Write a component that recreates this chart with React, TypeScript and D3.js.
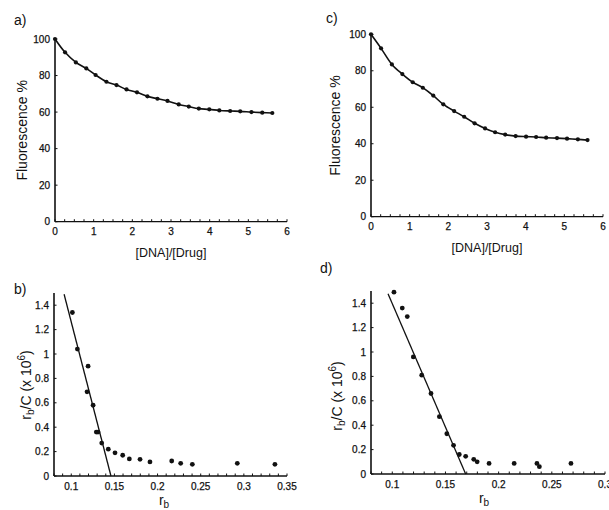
import React from 'react';
import * as d3 from 'd3';

// [DNA]/[Drug] ratios (panels a, c)
const ratioA = [0, 0.26, 0.54, 0.81, 1.05, 1.33, 1.59, 1.85, 2.12, 2.39, 2.65, 2.91, 3.2, 3.46, 3.72, 3.99, 4.25, 4.53, 4.79, 5.08, 5.36, 5.62];
const fluorA = [100, 92.7, 87.2, 83.9, 80.3, 76.6, 74.8, 72.4, 70.8, 68.6, 67.3, 66.1, 64.2, 63.0, 61.9, 61.5, 60.9, 60.6, 60.4, 60.0, 59.7, 59.5];

const ratioC = [0, 0.26, 0.54, 0.81, 1.08, 1.34, 1.61, 1.87, 2.15, 2.41, 2.68, 2.95, 3.21, 3.47, 3.74, 4.01, 4.27, 4.53, 4.81, 5.07, 5.35, 5.6];
const fluorC = [100, 92.3, 83.5, 78.2, 73.7, 70.7, 66.4, 61.6, 57.9, 54.8, 51.2, 48.4, 46.3, 45.0, 44.2, 43.9, 43.7, 43.3, 43.1, 42.8, 42.4, 42.0];

// Scatchard plots (panels b, d)
const rbB = [0.1013, 0.1071, 0.1195, 0.1183, 0.1253, 0.129, 0.131, 0.1353, 0.1429, 0.1507, 0.1596, 0.1673, 0.1797, 0.1912, 0.2164, 0.2268, 0.2403, 0.2924, 0.336];
const rbcB = [1.34, 1.04, 0.9, 0.69, 0.58, 0.36, 0.36, 0.27, 0.22, 0.19, 0.17, 0.14, 0.137, 0.115, 0.123, 0.104, 0.096, 0.104, 0.096];
const fitB = [0.0917, 0.146]; // fitted line: x at top, x-intercept
const fitTopB = 1.49;

const rbD = [0.1016, 0.1094, 0.1141, 0.1198, 0.1277, 0.1364, 0.1443, 0.1513, 0.1576, 0.163, 0.169, 0.1766, 0.1798, 0.191, 0.2146, 0.236, 0.2383, 0.268];
const rbcD = [1.49, 1.36, 1.29, 0.96, 0.81, 0.66, 0.47, 0.33, 0.235, 0.16, 0.145, 0.12, 0.1, 0.087, 0.087, 0.087, 0.06, 0.087];
const fitD = [0.096, 0.169];
const fitTopD = 1.478;

const fluorTicks = [0, 20, 40, 60, 80, 100];
const ratioTicks = [0, 1, 2, 3, 4, 5, 6];
const rbcTicks = [0, 0.2, 0.4, 0.6, 0.8, 1, 1.2, 1.4];
const rbTicksB = [0.1, 0.15, 0.2, 0.25, 0.3, 0.35];
const rbTicksD = [0.1, 0.15, 0.2, 0.25, 0.3];

const FONT = '"Liberation Sans", Arial, Helvetica, sans-serif';
const INK = '#111';

const fmt = (v: number) => String(+v.toFixed(2));

function Frame({ x, y, xTicks, yTicks, minorX, labelGap }: any) {
  const [x0, x1] = x.range();
  const y0 = y.range()[0];
  const y1 = y.range()[1];
  return (
    <g fontFamily={FONT} fill={INK}>
      <line x1={x0} x2={x0} y1={y0} y2={y1} stroke={INK} strokeWidth={1.6} />
      <line x1={x0} x2={x1} y1={y0} y2={y0} stroke={INK} strokeWidth={1.3} />
      {minorX.map((t: number, i: number) => (
        <line key={'m' + i} x1={x(t)} x2={x(t)} y1={y0} y2={y0 - 2.5} stroke={INK} strokeWidth={1} />
      ))}
      {xTicks.map((t: number) => (
        <text key={'x' + t} x={x(t)} y={y0 + labelGap} fontSize={10} textAnchor="middle" stroke={INK} strokeWidth={0.25}>{fmt(t)}</text>
      ))}
      {yTicks.map((t: number) => (
        <g key={'y' + t}>
          <line x1={x0} x2={x0 + 2.5} y1={y(t)} y2={y(t)} stroke={INK} strokeWidth={1} />
          <text x={x0 - 5} y={y(t) + 3.5} fontSize={10} textAnchor="end" stroke={INK} strokeWidth={0.25}>{fmt(t)}</text>
        </g>
      ))}
    </g>
  );
}

function FluorPanel({ left, right, top, bottom, xs, ys, tag, tagX, tagY, ylabX }: any) {
  const x = d3.scaleLinear().domain([0, 6]).range([left, right]);
  const y = d3.scaleLinear().domain([0, 100]).range([bottom, top]);
  const pts = xs.map((v: number, i: number) => [v, ys[i]]);
  const line = d3.line<number[]>().x(d => x(d[0])).y(d => y(d[1])).curve(d3.curveCatmullRom.alpha(0.5));
  const minor = d3.range(0, 6.001, 0.25);
  return (
    <g>
      <Frame x={x} y={y} xTicks={ratioTicks} yTicks={fluorTicks} minorX={minor} labelGap={13} />
      <path d={line(pts) || ''} fill="none" stroke={INK} strokeWidth={1.6} />
      {pts.map((p: number[], i: number) => (
        <circle key={i} cx={x(p[0])} cy={y(p[1])} r={2.1} fill={INK} />
      ))}
      <text x={(left + right) / 2} y={bottom + 35} fontSize={12.5} textAnchor="middle" fontFamily={FONT} fill={INK}>[DNA]/[Drug]</text>
      <text transform={`translate(${ylabX},${(top + bottom) / 2}) rotate(-90)`} fontSize={14} textAnchor="middle" fontFamily={FONT} fill={INK}>Fluorescence %</text>
      <text x={tagX} y={tagY} fontSize={14} fontFamily={FONT} fill={INK}>{tag}</text>
    </g>
  );
}

function ScatchardPanel({ left, right, top, bottom, xmax, xs, ys, fit, fitTop, xTicks, tag, tagX, tagY, ylabX, ylabY, xlabX }: any) {
  const x = d3.scaleLinear().domain([0.08, xmax]).range([left, right]);
  const y = d3.scaleLinear().domain([0, 1.5]).range([bottom, top]);
  const minor = d3.range(0.08, xmax + 0.0001, 0.01);
  return (
    <g>
      <Frame x={x} y={y} xTicks={xTicks} yTicks={rbcTicks} minorX={minor} labelGap={14} />
      <line x1={x(fit[0])} y1={y(fitTop)} x2={x(fit[1])} y2={y(0)} stroke={INK} strokeWidth={1.3} />
      {xs.map((v: number, i: number) => (
        <circle key={i} cx={x(v)} cy={y(ys[i])} r={2.4} fill={INK} />
      ))}
      <text x={xlabX} y={bottom + 29} fontSize={14} textAnchor="middle" fontFamily={FONT} fill={INK}>
        r<tspan dy={3} fontSize={10}>b</tspan>
      </text>
      <text transform={`translate(${ylabX},${ylabY}) rotate(-90)`} fontSize={14} textAnchor="middle" fontFamily={FONT} fill={INK}>
        r<tspan dy={3} fontSize={10}>b</tspan>
        <tspan dy={-3}>/C (x 10</tspan>
        <tspan dy={-6} fontSize={10}>6</tspan>
        <tspan dy={6}>)</tspan>
      </text>
      <text x={tagX} y={tagY} fontSize={14} fontFamily={FONT} fill={INK}>{tag}</text>
    </g>
  );
}

export default function App() {
  return (
    <svg width={609} height={510} style={{ position: 'absolute', left: 0, top: 0, background: '#fff' }}>
      <rect width={609} height={510} fill="#fff" />
      <FluorPanel left={55} right={287} top={39} bottom={221.7} xs={ratioA} ys={fluorA} tag="a)" tagX={14} tagY={25} ylabX={27} />
      <FluorPanel left={371} right={603} top={34.3} bottom={216.7} xs={ratioC} ys={fluorC} tag="c)" tagX={326} tagY={23} ylabX={340} />
      <ScatchardPanel left={54} right={287} top={293} bottom={476} xmax={0.35} xs={rbB} ys={rbcB} fit={fitB} fitTop={fitTopB}
        xTicks={rbTicksB} tag="b)" tagX={14} tagY={294} ylabX={31} ylabY={385} xlabX={164} />
      <ScatchardPanel left={371} right={605} top={291} bottom={474} xmax={0.3} xs={rbD} ys={rbcD} fit={fitD} fitTop={fitTopD}
        xTicks={rbTicksD} tag="d)" tagX={320} tagY={273} ylabX={342} ylabY={396} xlabX={484} />
    </svg>
  );
}
